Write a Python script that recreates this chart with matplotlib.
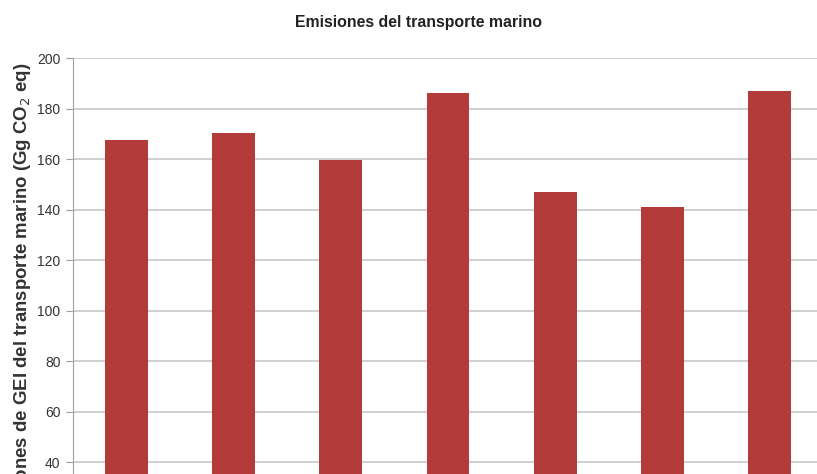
import numpy as np
import matplotlib
matplotlib.use('Agg')
import matplotlib.pyplot as plt

plt.rcParams['font.family'] = ['Liberation Sans', 'DejaVu Sans']

# categories (their labels fall below the visible crop, so they are not drawn)
years = ['2005', '2006', '2007', '2008', '2009', '2010', '2011']
emissions = [167.5, 170.3, 159.5, 186.3, 147.0, 140.8, 187.0]
yticks = [0, 20, 40, 60, 80, 100, 120, 140, 160, 180, 200]

fig = plt.figure(figsize=(8.17, 4.74), dpi=100)
ax = fig.add_axes([0.0894, -0.1878, 0.918, 1.0654])

x = np.arange(len(years))
ax.bar(x, emissions, width=0.4, color='#b33c3a', zorder=3)

ax.set_xlim(-0.5, len(years) - 0.5)
ax.set_ylim(0, 200)
ax.set_yticks(yticks)
ax.set_xticks(x, labels=[])
ax.grid(axis='y', color='#c8c8c8', linewidth=1.2, zorder=0)
ax.tick_params(axis='y', direction='out', length=5, color='#a0a0a0',
               labelsize=10, labelcolor='#333333', pad=4)
ax.tick_params(axis='x', length=0)

for s in ['top', 'right', 'bottom']:
    ax.spines[s].set_visible(False)
ax.spines['left'].set_color('#a0a0a0')

fig.text(0.027, 0.869, 'Emisiones de GEI del transporte marino (Gg CO$_2$ eq)',
         rotation=90, ha='center', va='top',
         fontsize=13.4, fontweight='bold', color='#333333')

fig.text(0.512, 0.953, 'Emisiones del transporte marino', ha='center', va='center',
         fontsize=11.4, fontweight='bold', color='#222222')

fig.savefig('out.png', dpi=100)
